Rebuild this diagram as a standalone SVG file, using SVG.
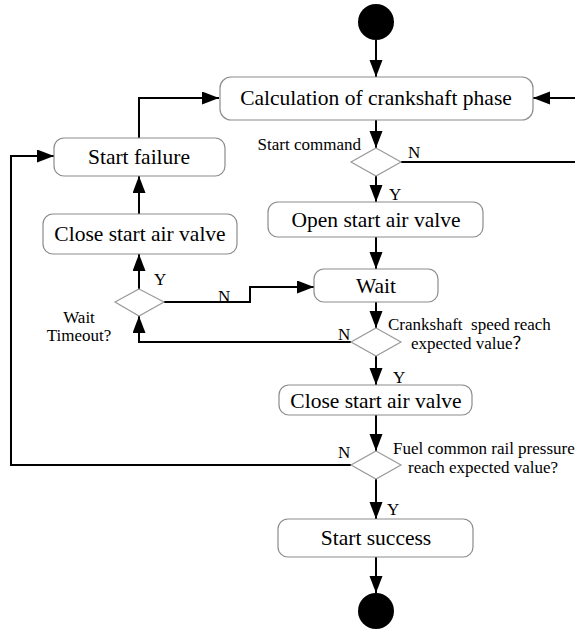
<svg xmlns="http://www.w3.org/2000/svg" width="575" height="630" viewBox="0 0 575 630">
<style>
.box{fill:#fff;stroke:#8c8c8c;stroke-width:1.2}
.dia{fill:#fff;stroke:#9a9a9a;stroke-width:1.2}
.bt{font-size:21.5px;fill:#000;text-anchor:middle}
.lb{font-size:17px;fill:#000}
.c{fill:none;stroke:#000;stroke-width:2}
.end{fill:#000}
</style>
<defs>
<marker id="ah" markerUnits="userSpaceOnUse" markerWidth="18" markerHeight="14" refX="17" refY="6.5" orient="auto">
<path d="M0,0 L17,6.5 L0,13 z" fill="#000"/>
</marker>
</defs>
<g id="connectors">
<path class="c" d="M376,40 V77" marker-end="url(#ah)"/>
<path class="c" d="M376,120 V148" marker-end="url(#ah)"/>
<path class="c" d="M401,162 H580 V98 H533" marker-end="url(#ah)"/>
<path class="c" d="M376,176 V202" marker-end="url(#ah)"/>
<path class="c" d="M376,237 V269" marker-end="url(#ah)"/>
<path class="c" d="M376,302 V328" marker-end="url(#ah)"/>
<path class="c" d="M351,342 H139 V316" marker-end="url(#ah)"/>
<path class="c" d="M164,302 H250 V287 H314" marker-end="url(#ah)"/>
<path class="c" d="M139,289 V254" marker-end="url(#ah)"/>
<path class="c" d="M139,214 V176" marker-end="url(#ah)"/>
<path class="c" d="M139,138 V98 H219" marker-end="url(#ah)"/>
<path class="c" d="M376,356 V385" marker-end="url(#ah)"/>
<path class="c" d="M376,415 V451" marker-end="url(#ah)"/>
<path class="c" d="M351,465 H11 V156 H54" marker-end="url(#ah)"/>
<path class="c" d="M376,479 V519" marker-end="url(#ah)"/>
<path class="c" d="M376,557 V593" marker-end="url(#ah)"/>
</g>
<g font-family="Liberation Serif, Times New Roman, Noto Sans CJK SC, serif">
<g id="labels">
<text class="lb" x="408" y="158">N</text>
<text class="lb" x="389" y="200">Y</text>
<text class="lb" x="154" y="285">Y</text>
<text class="lb" x="218" y="302">N</text>
<text class="lb" x="338" y="340">N</text>
<text class="lb" x="393" y="383">Y</text>
<text class="lb" x="338" y="458">N</text>
<text class="lb" x="387" y="515">Y</text>
</g>
<g id="start"><circle class="end" cx="376" cy="22" r="18"/></g>
<g id="calc">
<rect class="box" x="220" y="77" width="313" height="43" rx="11"/>
<text class="bt" x="376" y="105">Calculation of crankshaft phase</text>
</g>
<g id="start-command">
<polygon class="dia" points="376,148 401,162 376,176 351,162"/>
<text class="lb" x="361" y="150" text-anchor="end">Start command</text>
</g>
<g id="start-failure">
<rect class="box" x="54" y="138" width="171" height="38" rx="10"/>
<text class="bt" x="139" y="164">Start failure</text>
</g>
<g id="close-left">
<rect class="box" x="43" y="214" width="194" height="40" rx="10"/>
<text class="bt" x="140" y="241">Close start air valve</text>
</g>
<g id="open-valve">
<rect class="box" x="268" y="202" width="215" height="35" rx="10"/>
<text class="bt" x="376" y="227">Open start air valve</text>
</g>
<g id="wait">
<rect class="box" x="314" y="269" width="124" height="33" rx="10"/>
<text class="bt" x="376" y="293">Wait</text>
</g>
<g id="wait-timeout">
<polygon class="dia" points="139,289 164,302 139,316 115,302"/>
<text class="lb" x="79" y="323" text-anchor="middle">Wait</text>
<text class="lb" x="79" y="341" text-anchor="middle">Timeout?</text>
</g>
<g id="crank-speed">
<polygon class="dia" points="376,328 401,342 376,356 351,342"/>
<text class="lb" x="388" y="330" xml:space="preserve">Crankshaft  speed reach</text>
<text class="lb" x="411" y="349">expected value？</text>
</g>
<g id="close-right">
<rect class="box" x="279" y="385" width="193" height="30" rx="10"/>
<text class="bt" x="376" y="408">Close start air valve</text>
</g>
<g id="fuel-pressure">
<polygon class="dia" points="376,451 401,465 376,479 351,465"/>
<text class="lb" x="393" y="454">Fuel common rail pressure</text>
<text class="lb" x="408" y="473">reach expected value?</text>
</g>
<g id="start-success">
<rect class="box" x="278" y="519" width="195" height="38" rx="10"/>
<text class="bt" x="376" y="545">Start success</text>
</g>
<g id="end"><circle class="end" cx="376" cy="611" r="18"/></g>
</g>
</svg>
